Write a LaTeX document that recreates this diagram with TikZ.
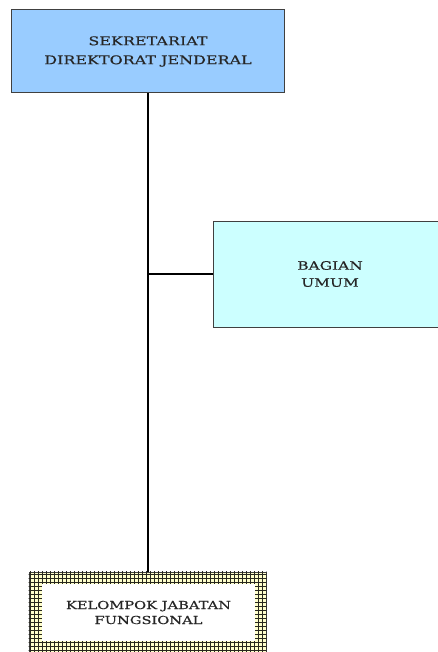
\documentclass[tikz,border=0pt]{standalone}
\usepackage{fontspec}
\newfontfamily\boxfont{DejaVu Serif}[FakeStretch=1.33,FakeBold=0.4]
\definecolor{topblue}{RGB}{153,204,255}
\definecolor{lightcyan}{RGB}{204,255,255}
\definecolor{paleyellow}{RGB}{255,255,204}
\definecolor{edgegray}{RGB}{64,64,64}
\definecolor{gridline}{RGB}{40,40,30}
\begin{document}
\begin{tikzpicture}[x=1pt,y=-1pt,
  orgbox/.style={draw=edgegray, line width=1pt, rectangle, inner sep=0pt, align=center,
    font=\boxfont\fontsize{12}{19}\selectfont, text=black!85},
  gridstroke/.style={gridline, line width=0.8pt},
  connector/.style={line width=2pt, black}]
\useasboundingbox (0,0) rectangle (438,652);
\clip (0,0) rectangle (438,652);
\node[orgbox, fill=topblue, minimum width=273pt, minimum height=83pt] (sek) at (148,51.5)
  {SEKRETARIAT\\DIREKTORAT JENDERAL};
\node[orgbox, fill=lightcyan, minimum width=234pt, minimum height=106pt,
  font=\boxfont\fontsize{11.6}{17}\selectfont] (bag) at (330,274)
  {BAGIAN\\UMUM};
\node[draw=edgegray, line width=0.8pt, fill=paleyellow, rectangle, minimum width=237pt, minimum height=90pt] (kel) at (147.5,617) {};
\begin{scope}
  \clip (kel.south west) rectangle (kel.north east);
  \foreach \x in {0,...,60} {
    \draw[gridstroke] (30.5+\x*4,560) -- (30.5+\x*4,670);
  }
  \foreach \y in {0,...,25} {
    \draw[gridstroke] (20,574.5+\y*4) -- (280,574.5+\y*4);
  }
\end{scope}
\node[rectangle, fill=white, minimum width=213pt, minimum height=57pt,
  inner sep=0pt, align=center, font=\boxfont\fontsize{11}{15}\selectfont, text=black!85] (kelin) at (148.5,612.5)
  {KELOMPOK JABATAN\\FUNGSIONAL};
\draw[connector] (sek.south) -- (sek.south |- kel.north);
\draw[connector] (sek.south |- bag.west) -- (bag.west);
\end{tikzpicture}
\end{document}
